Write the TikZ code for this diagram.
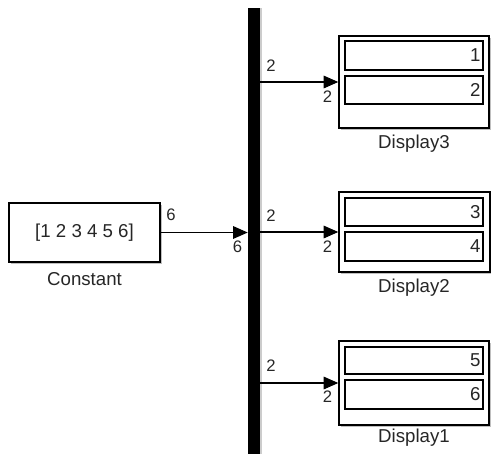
\documentclass[tikz,border=0pt]{standalone}
\usepackage{fontspec}
\setmainfont{Liberation Sans}
\usetikzlibrary{arrows.meta,shadows}
\begin{document}
\begin{tikzpicture}[x=0.75pt,y=-0.75pt,
  blk/.style={draw=black,line width=1.1pt,fill=white,inner sep=0pt,
    drop shadow={shadow xshift=1.2pt,shadow yshift=-1.6pt,opacity=0.25,fill=black}},
  inbox/.style={draw=black,line width=1.1pt,fill=white,inner sep=0pt,minimum width=103.5pt},
  lbl/.style={font=\fontsize{14}{16}\selectfont,text=black!85,inner sep=0pt},
  port/.style={font=\fontsize{12.5}{14}\selectfont,text=black!85,inner sep=0pt},
  val/.style={font=\fontsize{14}{16}\selectfont,text=black!85,inner sep=0pt,anchor=east},
  arr/.style={line width=0.8pt,-{Triangle[length=11pt,width=9.5pt]}}]
\useasboundingbox (0,0) rectangle (491,454);
% constant block
\node[blk,minimum width=113.25pt,minimum height=44.25pt,font=\fontsize{14}{16}\selectfont] (const) at (84.5,232.5) {\textcolor{black!85}{[1 2 3 4 5 6]}};
\node[lbl] (constl) at (84.5,279) {Constant};
% bar
\node[fill=black,inner sep=0pt,minimum width=9pt,minimum height=334.5pt,
  drop shadow={shadow xshift=1.5pt,shadow yshift=0pt,opacity=0.2,fill=black}] (bar) at (254,231) {};
% displays
\node[blk,minimum width=112.5pt,minimum height=69pt] (d3) at (414,82) {};
\node[inbox,minimum height=21.75pt] (d3a) at (414,55.5) {};
\node[inbox,minimum height=21pt] (d3b) at (414,90) {};
\node[val] (v1) at ([xshift=-2.2pt]d3a.east) {1};
\node[val] (v2) at ([xshift=-2.2pt]d3b.east) {2};
\node[lbl] (d3l) at (414,144) {Display3};

\node[blk,minimum width=113.25pt,minimum height=60pt] (d2) at (414.5,232) {};
\node[inbox,minimum height=21pt] (d2a) at (414,212) {};
\node[inbox,minimum height=21.75pt] (d2b) at (414,246.5) {};
\node[val] (v3) at ([xshift=-2.2pt]d2a.east) {3};
\node[val] (v4) at ([xshift=-2.2pt]d2b.east) {4};
\node[lbl] (d2l) at (414,288) {Display2};

\node[blk,minimum width=112.5pt,minimum height=63pt] (d1) at (414,383) {};
\node[inbox,minimum height=20.25pt] (d1a) at (414,360.5) {};
\node[inbox,minimum height=21.75pt] (d1b) at (414,394.5) {};
\node[val] (v5) at ([xshift=-2.2pt]d1a.east) {5};
\node[val] (v6) at ([xshift=-2.2pt]d1b.east) {6};
\node[lbl] (d1l) at (414,438) {Display1};
% connectors
\draw[arr] (const.east) -- (const.east -| bar.west);
\draw[arr] (d3.west -| bar.east) -- (d3.west);
\draw[arr] (d2.west -| bar.east) -- (d2.west);
\draw[arr] (d1.west -| bar.east) -- (d1.west);
% port labels
\node[port] (p1) at (171,215) {6};
\node[port] (p2) at (237.5,247) {6};
\node[port] (p3) at (271,66) {2};
\node[port] (p4) at (327.5,97) {2};
\node[port] (p5) at (271,216) {2};
\node[port] (p6) at (327.5,247) {2};
\node[port] (p7) at (271,366) {2};
\node[port] (p8) at (327.5,397) {2};
\end{tikzpicture}
\end{document}
